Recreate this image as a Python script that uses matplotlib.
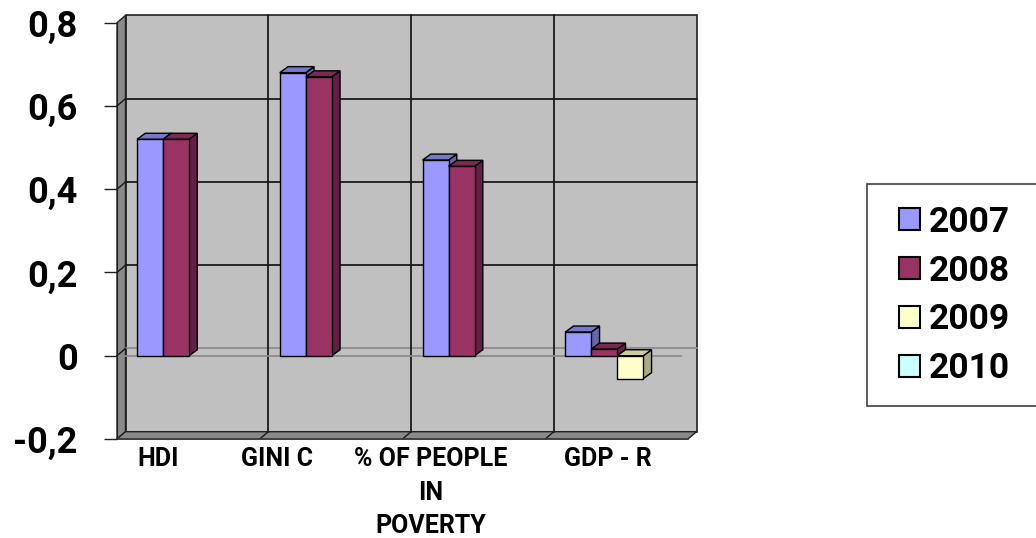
import numpy as np
import matplotlib.pyplot as plt
from matplotlib.patches import Polygon, Patch, Rectangle

# data
categories = ['HDI', 'GINI C', '% OF PEOPLE\nIN\nPOVERTY', 'GDP - R']
years = ['2007', '2008', '2009', '2010']
v2007 = [0.52, 0.68, 0.47, 0.057]
v2008 = [0.52, 0.67, 0.455, 0.016]
v2009 = [np.nan, np.nan, np.nan, -0.055]
v2010 = [np.nan, np.nan, np.nan, np.nan]
yticks = [-0.2, 0, 0.2, 0.4, 0.6, 0.8]
ytick_labels = ['-0,2', '0', '0,2', '0,4', '0,6', '0,8']

series = [v2007, v2008, v2009, v2010]
front = ['#9999FF', '#993366', '#FFFFCC', '#CCFFFF']
top = ['#7777CC', '#7A2952', '#CCCCA3', '#A3CCCC']
side = ['#6666AA', '#631F44', '#AAAA88', '#88AAAA']

plt.rcParams['font.family'] = ['Roboto', 'DejaVu Sans']
plt.rcParams['font.weight'] = 'bold'

fig = plt.figure(figsize=(10.36, 5.38), dpi=100)
ax = fig.add_axes([117 / 1036, 1 - 439 / 538, 571 / 1036, 416.3 / 538])
ax.set_xlim(0, 4)
ax.set_ylim(-0.2, 0.8)
ax.set_facecolor('none')

pxx = 571 / 4      # pixels per category
pxy = 416.3        # pixels per unit of value
wdx, wdy = 8.5 / pxx, 7.3 / pxy   # wall depth
bdx, bdy = 8.3 / pxx, 6.0 / pxy   # bar depth

# walls and floor
y0, y1 = -0.2, 0.8
ax.add_patch(Polygon([(wdx, y0 + wdy), (4 + wdx, y0 + wdy), (4 + wdx, y1 + wdy), (wdx, y1 + wdy)],
                     closed=True, fc='#C0C0C0', ec='#202020', lw=1.2, clip_on=False, zorder=0))
ax.add_patch(Polygon([(0, y0), (wdx, y0 + wdy), (wdx, y1 + wdy), (0, y1)],
                     closed=True, fc='#8A8A8A', ec='#202020', lw=1, clip_on=False, zorder=0.5))
ax.add_patch(Polygon([(0, y0), (4, y0), (4 + wdx, y0 + wdy), (wdx, y0 + wdy)],
                     closed=True, fc='#8A8A8A', ec='#202020', lw=1, clip_on=False, zorder=0.5))

# gridlines on back wall, left wall and floor
for t in yticks[1:-1]:
    col = '#8C8C8C' if t == 0 else '#1A1A1A'
    ax.plot([wdx, 4 + wdx], [t + wdy, t + wdy], color=col, lw=1.3, zorder=0.6, clip_on=False)
    ax.plot([0, wdx], [t, t + wdy], color='#1A1A1A', lw=1, zorder=0.6, clip_on=False)
for c in range(1, 4):
    ax.plot([c + wdx, c + wdx], [y0 + wdy, y1 + wdy], color='#1A1A1A', lw=1.3, zorder=0.6, clip_on=False)
    ax.plot([c, c + wdx], [y0, y0 + wdy], color='#1A1A1A', lw=1, zorder=0.6, clip_on=False)
ax.plot([0, 3.95], [0, 0], color='#8C8C8C', lw=1.3, zorder=0.7)

# bars with a 3d look
bw = 26 / pxx
off = 20 / pxx
for j, vals in enumerate(series):
    x = np.arange(len(categories)) + off + j * bw
    vals = np.array(vals, dtype=float)
    ok = ~np.isnan(vals)
    ax.bar(x[ok], vals[ok], width=bw, align='edge', color=front[j], edgecolor='black',
           lw=1, zorder=3 + j * 0.1)
    for xi, v in zip(x[ok], vals[ok]):
        hi, lo = max(v, 0), min(v, 0)
        ax.add_patch(Polygon([(xi + bw, lo), (xi + bw + bdx, lo + bdy), (xi + bw + bdx, hi + bdy), (xi + bw, hi)],
                             closed=True, fc=side[j], ec='black', lw=1, zorder=2.95 + j * 0.1, clip_on=False))
        ax.add_patch(Polygon([(xi, hi), (xi + bw, hi), (xi + bw + bdx, hi + bdy), (xi + bdx, hi + bdy)],
                             closed=True, fc=top[j], ec='black', lw=1, zorder=2.95 + j * 0.1, clip_on=False))

# axes
for s in ['top', 'right']:
    ax.spines[s].set_visible(False)
ax.spines['left'].set_color('#202020')
ax.spines['bottom'].set_color('#404040')
ax.spines['bottom'].set_linewidth(1.2)
ax.spines['left'].set_zorder(1)
ax.spines['bottom'].set_zorder(1)
ax.set_yticks(yticks)
ax.set_yticklabels(ytick_labels, fontsize=26, fontweight='bold')
ax.tick_params(axis='y', length=9.4, width=1, color='#202020', pad=19)

label_pos = [0.29, 1.12, 2.2, 3.44]
ax.set_xticks(label_pos)
ax.set_xticklabels(categories, fontsize=18, fontweight='bold', linespacing=1.5)
ax.tick_params(axis='x', length=0, pad=6)

# legend
fig.add_artist(Rectangle((867 / 1036, 1 - 406 / 538), 180 / 1036, 222 / 538,
                         transform=fig.transFigure, fc='white', ec='#404040', lw=1.2))
handles = [Patch(fc=front[j], ec='black', lw=1.5) for j in range(len(years))]
fig.legend(handles, years, loc='center left', bbox_to_anchor=(899 / 1036, 1 - 295.5 / 538),
           frameon=False, prop={'weight': 'bold', 'size': 25.5}, handlelength=0.6,
           handleheight=0.6, handletextpad=0.25, labelspacing=0.45, borderpad=0, borderaxespad=0)

fig.savefig('out.png', dpi=100)
